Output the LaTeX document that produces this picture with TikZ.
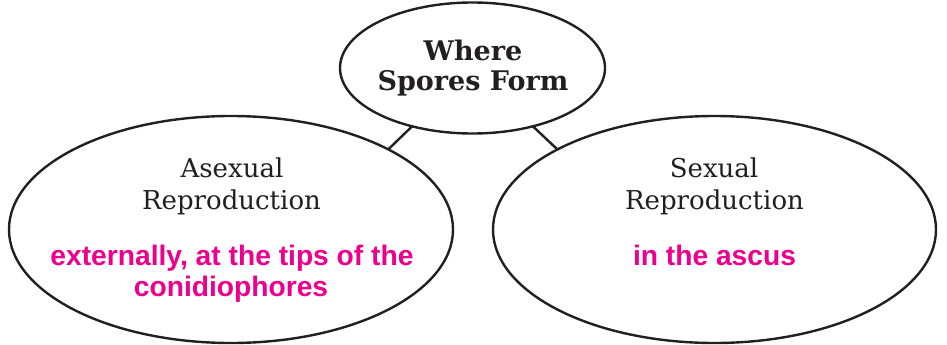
\documentclass[tikz,border=0pt]{standalone}
\usepackage{fontspec}
\setmainfont{DejaVu Serif}
\newfontfamily\titlefont{DejaVu Serif}
\newfontfamily\notefont{Liberation Sans}
\usetikzlibrary{shapes.geometric}
\definecolor{ink}{HTML}{231F20}
\definecolor{pinkish}{HTML}{EC008C}
\tikzset{
  bubble/.style={ellipse, draw=ink, line width=2.4pt, inner sep=0pt, outer sep=0pt},
  link/.style={draw=ink, line width=2.4pt},
  titletext/.style={anchor=base, inner sep=0pt, text=ink, font=\titlefont\bfseries\fontsize{27}{30}\selectfont},
  headtext/.style={anchor=base, inner sep=0pt, text=ink, font=\fontsize{26}{32}\selectfont},
  notetext/.style={anchor=base, inner sep=0pt, text=pinkish, font=\notefont\bfseries\fontsize{28.2}{31}\selectfont}
}
\begin{document}
\begin{tikzpicture}[x=1pt,y=-1pt]
\useasboundingbox (0,0) rectangle (947,345);
\node[bubble, minimum width=265pt, minimum height=131pt] (top) at (472.5,68) {};
\node[bubble, minimum width=444pt, minimum height=227pt] (left) at (231,229.5) {};
\node[bubble, minimum width=443pt, minimum height=227pt] (right) at (714.5,229.5) {};
\draw[link] (top.224) -- (left.27);
\draw[link] (top.316) -- (right.153);
\node[titletext] (t1) at (473,60) {Where};
\node[titletext] (t2) at (473,90) {Spores Form};
\node[headtext] (l1) at (232,177) {Asexual};
\node[headtext] (l2) at (231.5,209) {Reproduction};
\node[notetext] (l3) at (232,265) {externally, at the tips of the};
\node[notetext] (l4) at (231,296) {conidiophores};
\node[headtext] (r1) at (714,177) {Sexual};
\node[headtext] (r2) at (714.5,209) {Reproduction};
\node[notetext] (r3) at (714.5,265) {in the ascus};
\end{tikzpicture}
\end{document}
